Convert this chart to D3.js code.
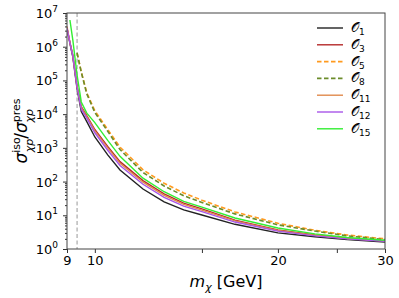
<!DOCTYPE html>
<html><head><meta charset="utf-8">
<script src="https://cdn.jsdelivr.net/npm/d3@7"></script>
<style>body{margin:0;background:#fff} svg{display:block} text{font-family:"DejaVu Sans",sans-serif;fill:#000}</style>
</head><body><svg id="c" width="399" height="298"></svg>
<script>
// ---- data ----
const massSolid  = [9.0, 9.1, 9.2, 9.35, 9.5, 9.7, 10, 10.5, 11, 12, 13, 14, 15, 17, 20, 23, 26, 30];
const massDashed = [9.35, 9.5, 9.7, 10, 10.5, 11, 12, 13, 14, 15, 17, 20, 23, 26, 30];
const O1  = [3.5e6, 1.26e6, 5.0e5, 5.6e4, 1.2e4, 6.0e3, 2.1e3, 620, 220, 60, 25, 14.5, 10.2, 5.4, 3.0, 2.3, 1.9, 1.62];
const O3  = [3.5e6, 1.35e6, 5.6e5, 6.8e4, 1.66e4, 9.1e3, 3.5e3, 1100, 390, 107, 43, 23, 15.5, 7.2, 3.7, 2.6, 2.1, 1.74];
const O5  = [6.5e5, 1.8e5, 4.3e4, 1.26e4, 3.5e3, 1050, 224, 89, 46, 28, 12.6, 5.8, 3.6, 2.6, 2.0];
const O8  = [6.5e5, 1.75e5, 4.0e4, 1.12e4, 3.1e3, 890, 186, 74, 38, 24, 11, 5.2, 3.4, 2.45, 1.9];
const O11 = [4.0e6, 1.33e6, 5.5e5, 6.6e4, 1.55e4, 8.5e3, 3.2e3, 1000, 350, 96, 39, 21, 14.3, 6.8, 3.55, 2.55, 2.05, 1.72];
const O12 = [3.5e6, 1.3e6, 5.4e5, 6.3e4, 1.4e4, 7.6e3, 2.8e3, 850, 300, 83, 34, 18.6, 12.9, 6.3, 3.4, 2.45, 2.0, 1.7];
const O15 = [null, 6.2e6, 1.6e6, 1.45e5, 2.3e4, 1.07e4, 5.6e3, 1660, 560, 126, 50, 26, 17.4, 8.3, 4.2, 2.8, 2.2, 1.82];
const thresholdMass = 9.35;
const xTicks = [9, 10, 15, 20, 25, 30];
const xTickLabels = ["9", "10", "", "20", "", "30"];
const yDecades = [0, 1, 2, 3, 4, 5, 6, 7];

const series = [
  {name: "1",  mass: massSolid,  vals: O1,  color: "#222222", dash: null},
  {name: "3",  mass: massSolid,  vals: O3,  color: "#b52a2a", dash: null},
  {name: "5",  mass: massDashed, vals: O5,  color: "#ff9a1f", dash: "4.5,2.5"},
  {name: "8",  mass: massDashed, vals: O8,  color: "#6b8c2a", dash: "4.5,2.5"},
  {name: "11", mass: massSolid,  vals: O11, color: "#e08a4c", dash: null},
  {name: "12", mass: massSolid,  vals: O12, color: "#a855e8", dash: null},
  {name: "15", mass: massSolid,  vals: O15, color: "#33ee33", dash: null}
];

// ---- layout ----
const L = 67, R = 385, T = 13, B = 249;
const svg = d3.select("#c");
const x = d3.scaleLog().domain([9, 30]).range([L, R]);
const y = d3.scaleLog().domain([1, 1e7]).range([B, T]);

svg.append("defs").append("clipPath").attr("id", "clip")
  .append("rect").attr("x", L).attr("y", T).attr("width", R - L).attr("height", B - T);

// threshold line
svg.append("line").attr("x1", x(thresholdMass)).attr("x2", x(thresholdMass))
  .attr("y1", T).attr("y2", B).attr("stroke", "#aaaaaa").attr("stroke-width", 1.2)
  .attr("stroke-dasharray", "4,2.5");

// curves
const g = svg.append("g").attr("clip-path", "url(#clip)");
series.forEach(s => {
  const pts = s.mass.map((m, i) => [m, s.vals[i]]);
  const line = d3.line().defined(d => d[1] != null).x(d => x(d[0])).y(d => y(d[1]));
  g.append("path").attr("d", line(pts)).attr("fill", "none")
    .attr("stroke", s.color).attr("stroke-width", s.dash ? 1.6 : 1.4)
    .attr("stroke-dasharray", s.dash);
});

// x axis
const xa = svg.append("g").attr("transform", `translate(0,${B})`)
  .call(d3.axisBottom(x).tickValues(xTicks).tickSize(4).tickPadding(3)
    .tickFormat((d, i) => xTickLabels[i]));
xa.select(".domain").remove();
xa.selectAll("line").attr("stroke", "#333");
xa.selectAll("text").attr("font-size", 13).attr("fill", "#000").style("font-family", "DejaVu Sans");

// y axis major + minor
const minors = [];
for (let k = 0; k < 7; k++) for (let j = 2; j <= 9; j++) minors.push(j * Math.pow(10, k));
const ya = svg.append("g").attr("transform", `translate(${L},0)`);
ya.call(d3.axisLeft(y).tickValues(yDecades.map(k => Math.pow(10, k))).tickSize(4).tickFormat(""));
ya.select(".domain").remove();
ya.selectAll("line").attr("stroke", "#333");
const ym = svg.append("g").attr("transform", `translate(${L},0)`);
ym.call(d3.axisLeft(y).tickValues(minors).tickSize(2).tickFormat(""));
ym.select(".domain").remove();
ym.selectAll("line").attr("stroke", "#333");

yDecades.forEach(k => {
  const t = svg.append("text").attr("x", 58).attr("y", y(Math.pow(10, k)) + 5)
    .attr("text-anchor", "end").attr("font-size", 13);
  t.append("tspan").text("10");
  t.append("tspan").attr("dy", -6).attr("font-size", 9).text(k);
});

// frame
svg.append("rect").attr("x", L).attr("y", T).attr("width", R - L).attr("height", B - T)
  .attr("fill", "none").attr("stroke", "#444").attr("stroke-width", 1);

// x label
const xl = svg.append("text").attr("x", 226).attr("y", 287).attr("text-anchor", "middle").attr("font-size", 16);
xl.append("tspan").attr("font-style", "italic").text("m");
xl.append("tspan").attr("font-style", "italic").attr("font-size", 11).attr("dy", 4).text("χ");
xl.append("tspan").attr("dy", -4).text(" [GeV]");

// y label
const yl = svg.append("text").attr("transform", "translate(27,131) rotate(-90)")
  .attr("text-anchor", "middle").attr("font-size", 17);
yl.append("tspan").attr("font-style", "italic").text("σ");
yl.append("tspan").attr("font-size", 11).attr("dy", -7).text("iso");
yl.append("tspan").attr("font-size", 11).attr("font-style", "italic").attr("dx", -15).attr("dy", 13).text("χp");
yl.append("tspan").attr("dy", -6).attr("font-size", 17).text("/");
yl.append("tspan").attr("font-style", "italic").text("σ");
yl.append("tspan").attr("font-size", 11).attr("dy", -7).text("pres");
yl.append("tspan").attr("font-size", 11).attr("font-style", "italic").attr("dx", -24).attr("dy", 13).text("χp");

// legend
series.forEach((s, i) => {
  const ly = 28 + i * 16.8;
  svg.append("line").attr("x1", 317).attr("x2", 343).attr("y1", ly).attr("y2", ly)
    .attr("stroke", s.color).attr("stroke-width", s.dash ? 1.6 : 1.4).attr("stroke-dasharray", s.dash);
  const t = svg.append("text").attr("x", 351).attr("y", ly + 4).attr("font-size", 13);
  t.append("tspan").text("𝒪");
  t.append("tspan").attr("font-size", 9).attr("dy", 3).text(s.name);
});
</script></body></html>
